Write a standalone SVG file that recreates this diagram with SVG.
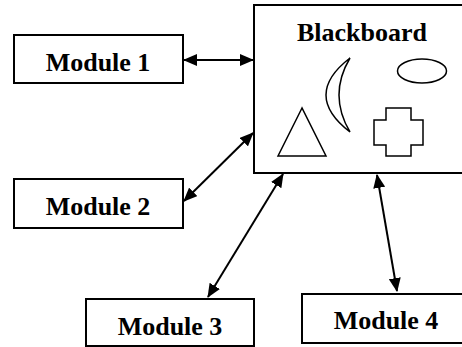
<svg xmlns="http://www.w3.org/2000/svg" width="462" height="347" viewBox="0 0 462 347">
<style>
.box{fill:#fff;stroke:#000;stroke-width:2}
.lbl{font-family:"Liberation Serif","Times New Roman",serif;font-weight:bold;font-size:26px;fill:#000;text-anchor:middle}
.shape{fill:none;stroke:#000;stroke-width:1.5}
.conn{stroke:#000;stroke-width:2;fill:none;marker-start:url(#ah);marker-end:url(#ah)}
</style>
<defs>
<marker id="ah" markerUnits="userSpaceOnUse" markerWidth="14" markerHeight="12" refX="13" refY="6" orient="auto-start-reverse">
<path d="M0,0 L14,6 L0,12 z" fill="#000"/>
</marker>
</defs>
<rect width="462" height="347" fill="#fff"/>
<g id="blackboard">
<rect class="box" x="254" y="5" width="220" height="168"/>
<text class="lbl" x="362" y="41">Blackboard</text>
<ellipse class="shape" cx="422" cy="71" rx="24.5" ry="12"/>
<path class="shape" d="M350,58 Q302,95 350,132 Q328,95 350,58 Z"/>
<path class="shape" d="M302,108 L278,156 L326,156 Z"/>
<path class="shape" d="M386,108 L411,108 L411,120 L423,120 L423,145 L411,145 L411,156 L386,156 L386,145 L374,145 L374,120 L386,120 Z"/>
</g>
<g id="module1">
<rect class="box" x="14" y="35" width="169" height="48"/>
<text class="lbl" x="98" y="71">Module 1</text>
</g>
<g id="module2">
<rect class="box" x="14" y="179" width="169" height="49"/>
<text class="lbl" x="98" y="215">Module 2</text>
</g>
<g id="module3">
<rect class="box" x="86" y="299" width="168" height="47"/>
<text class="lbl" x="170" y="335">Module 3</text>
</g>
<g id="module4">
<rect class="box" x="302" y="294" width="170" height="49"/>
<text class="lbl" x="386" y="329">Module 4</text>
</g>
<g id="connectors">
<line class="conn" x1="184" y1="60" x2="253" y2="60"/>
<line class="conn" x1="184" y1="201" x2="253" y2="133"/>
<line class="conn" x1="208" y1="297" x2="283" y2="174"/>
<line class="conn" x1="397" y1="291" x2="377" y2="175"/>
</g>
</svg>
